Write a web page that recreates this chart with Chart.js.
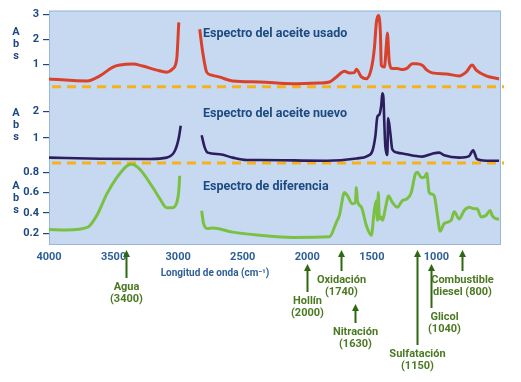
<!DOCTYPE html>
<html><head><meta charset="utf-8">
<script src="https://cdn.jsdelivr.net/npm/chart.js@4"></script>
<style>html,body{margin:0;padding:0;background:#fff}canvas{display:block}</style>
</head><body>
<canvas id="c" width="521" height="382"></canvas>
<script>
// ---- DATA ----
const usadoWn  = [4000,3706,3606,3505,3451,3351,3274,3165,3088,3042,3011,2995,2910,2833,2810,2779,2740,2678,2578,2369,2114,1906,1828,1774,1712,1674,1635,1620,1581,1543,1504,1481,1465,1450,1434,1427,1403,1388,1380,1365,1342,1303,1264,1226,1187,1156,1110,1071,1032,924,824,770,723,692,615,515];
const usadoAbs = [0.43,0.35,0.55,0.9,0.98,1.02,0.94,0.78,0.7,0.83,1.22,2.67,null,2.4,1.5,0.7,0.58,0.5,0.35,0.31,0.24,0.27,0.31,0.51,0.73,0.67,0.68,0.81,0.51,0.44,0.84,1.62,2.67,2.95,2.27,0.97,0.9,1.75,2.25,1.1,0.84,0.84,0.8,0.86,1.03,1.03,0.97,0.77,0.67,0.63,0.55,0.7,0.98,0.78,0.55,0.43];

const nuevoWn  = [4000,3606,3219,3088,3026,2995,2980,2900,2818,2794,2771,2678,2578,2470,2369,1852,1620,1535,1496,1473,1457,1442,1427,1419,1411,1403,1396,1388,1380,1374,1357,1342,1303,1233,1156,1110,1032,978,940,824,747,716,685,615,515];
const nuevoAbs = [0.25,0.21,0.2,0.25,0.5,1.0,1.46,null,1.1,0.63,0.44,0.38,0.25,0.16,0.16,0.13,0.22,0.31,0.5,1.06,1.81,1.88,2.25,2.69,2.56,1.5,0.7,0.44,0.35,1.75,1.19,0.57,0.44,0.38,0.31,0.29,0.4,0.44,0.34,0.25,0.31,0.53,0.19,0.13,0.13];

const difWn  = [4000,3861,3699,3629,3552,3474,3397,3359,3297,3196,3142,3088,3049,3011,2995,2988,2900,2818,2802,2771,2733,2578,2369,2114,1828,1774,1751,1712,1689,1651,1627,1620,1612,1581,1543,1504,1481,1465,1457,1450,1442,1427,1419,1388,1372,1342,1303,1264,1226,1195,1164,1148,1117,1094,1075,1056,1040,1017,994,971,940,886,862,824,785,746,708,685,654,615,584,569,530,515];
const difAbs = [0.236,0.232,0.26,0.376,0.587,0.75,0.863,0.88,0.83,0.65,0.54,0.45,0.45,0.5,0.62,0.766,null,0.42,0.29,0.246,0.25,0.21,0.18,0.158,0.164,0.31,0.376,0.6,0.57,0.49,0.505,0.65,0.52,0.456,0.278,0.18,0.424,0.52,0.327,0.6,0.34,0.36,0.327,0.49,0.57,0.505,0.456,0.52,0.54,0.6,0.78,0.8,0.75,0.75,0.79,0.6,0.587,0.57,0.39,0.22,0.295,0.327,0.41,0.34,0.424,0.456,0.44,0.44,0.36,0.376,0.424,0.376,0.34,0.34];

const xTicks = [4000,3500,3000,2500,2000,1500,1000];
const usadoTicks = [1,2,3];
const nuevoTicks = [1,2];
const difTicks = [0.2,0.4,0.6,0.8];

const panelTitles = ['Espectro del aceite usado','Espectro del aceite nuevo','Espectro de diferencia'];
const xTitle = 'Longitud de onda (cm\u207B\u00B9)';

const bandNames = ['Agua','Hollín','Oxidación','Nitración','Sulfatación','Glicol','Combustible'];
const bandSub   = ['(3400)','(2000)','(1740)','(1630)','(1150)','(1040)','diesel (800)'];
const bandWn    = [3400,2000,1740,1630,1150,1040,800];

// ---- STYLE / LAYOUT ----
const bandLayout = [
  {top:250,bottom:278,dx:0},{top:264,bottom:292,dx:0},{top:250,bottom:271,dx:0},
  {top:304,bottom:323,dx:0},{top:250,bottom:345,dx:0},{top:264,bottom:308,dx:13},
  {top:250,bottom:271,dx:0}];
const BLUE = '#1c4a80';
const GREEN_TXT = '#4b7a22';
const GREEN_ARW = '#2e6912';
const FONT = 'Roboto, "Liberation Sans", sans-serif';

function pts(xs, ys){ return xs.map((x,i)=>({x:x, y:ys[i]})); }

function yScale(ticks, min, max, weight){
  return {
    type:'linear', position:'left', stack:'panels', stackWeight:weight,
    min:min, max:max,
    afterBuildTicks: s => { s.ticks = ticks.map(v=>({value:v})); },
    afterFit: s => { s.width = 49; },
    border:{display:false},
    grid:{drawOnChartArea:false, drawTicks:true, tickLength:6, color:BLUE, lineWidth:1.2},
    ticks:{autoSkip:false, padding:4, color:BLUE, font:{family:FONT, weight:'bold', size:11},
           callback: v => String(v)}
  };
}

const bgPlugin = {
  id:'bg',
  beforeDraw(chart){
    const {ctx, chartArea:a} = chart;
    ctx.save();
    ctx.fillStyle = '#c6d9f1';
    ctx.fillRect(a.left, a.top, a.right-a.left, a.bottom-a.top);
    ctx.strokeStyle = '#9ab6db';
    ctx.lineWidth = 1;
    ctx.strokeRect(a.left+0.5, a.top+0.5, a.right-a.left-1, a.bottom-a.top);
    ctx.restore();
  },
  beforeDatasetsDraw(chart){
    const {ctx, chartArea:a} = chart;
    ctx.save();
    ctx.strokeStyle = '#f5b21c';
    ctx.lineWidth = 3;
    ctx.setLineDash([9,6]);
    ['yUsado','yNuevo'].forEach(id=>{
      const y = chart.scales[id].bottom;
      ctx.beginPath(); ctx.moveTo(a.left+3, y); ctx.lineTo(a.right+3, y); ctx.stroke();
    });
    ctx.restore();
  },
  afterDraw(chart){
    const {ctx, chartArea:a} = chart;
    const x = chart.scales.x;
    ctx.save();
    const ids = ['yUsado','yNuevo','yDif'];
    const offs = [23,27,24];
    ids.forEach((id,i)=>{
      const s = chart.scales[id];
      const ty = s.top + offs[i];
      ctx.fillStyle = BLUE;
      ctx.font = 'bold 12.5px ' + FONT;
      ctx.textAlign = 'left'; ctx.textBaseline = 'middle';
      ctx.fillText(panelTitles[i], a.left + 154, ty);
      ctx.font = 'bold 11px ' + FONT;
      ctx.textAlign = 'center';
      ['A','b','s'].forEach((ch,k)=> ctx.fillText(ch, 16, ty - 1 + k*12));
    });
    ctx.fillStyle = '#2f5f98';
    ctx.font = 'bold 10px ' + FONT;
    ctx.textAlign = 'center'; ctx.textBaseline = 'middle';
    ctx.fillText(xTitle, 215, 273);
    bandWn.forEach((w,i)=>{
      const px = Math.round(x.getPixelForValue(w)) + 0.5;
      const L = bandLayout[i];
      ctx.strokeStyle = GREEN_ARW; ctx.fillStyle = GREEN_ARW;
      ctx.lineWidth = 2;
      ctx.beginPath(); ctx.moveTo(px, L.top+5); ctx.lineTo(px, L.bottom); ctx.stroke();
      ctx.beginPath(); ctx.moveTo(px, L.top); ctx.lineTo(px-3.5, L.top+7); ctx.lineTo(px+3.5, L.top+7); ctx.closePath(); ctx.fill();
      ctx.fillStyle = GREEN_TXT;
      ctx.font = 'bold 11px ' + FONT;
      ctx.textAlign = 'center'; ctx.textBaseline = 'middle';
      ctx.fillText(bandNames[i], px + L.dx, L.bottom + 9);
      ctx.fillText(bandSub[i], px + L.dx, L.bottom + 21);
    });
    ctx.restore();
  }
};

new Chart(document.getElementById('c'), {
  type:'line',
  data:{datasets:[
    {label:'Usado', data:pts(usadoWn,usadoAbs), yAxisID:'yUsado', borderColor:'#d8412c', borderWidth:3},
    {label:'Nuevo', data:pts(nuevoWn,nuevoAbs), yAxisID:'yNuevo', borderColor:'#2c1e5c', borderWidth:2.6},
    {label:'Diferencia', data:pts(difWn,difAbs), yAxisID:'yDif', borderColor:'#7ac143', borderWidth:3}
  ]},
  options:{
    responsive:false, animation:false,
    layout:{padding:{top:8, right:20, left:0, bottom:0}},
    elements:{point:{radius:0}, line:{cubicInterpolationMode:'monotone', fill:false}},
    spanGaps:false,
    plugins:{legend:{display:false}, tooltip:{enabled:false}},
    scales:{
      x:{type:'linear', reverse:true, min:500, max:4000,
         afterBuildTicks: s => { s.ticks = xTicks.map(v=>({value:v})); },
         afterFit: s => { s.height = 138; },
         border:{display:false},
         grid:{display:false, drawTicks:false},
         ticks:{autoSkip:false, maxRotation:0, padding:7, color:'#2f5f98', font:{family:FONT, weight:'bold', size:11},
                callback: v => String(v)}},
      yDif: yScale(difTicks, 0.093, 0.893, 82),
      yNuevo: yScale(nuevoTicks, 0.05, 2.94, 77),
      yUsado: yScale(usadoTicks, 0.12, 3.14, 77)
    }
  },
  plugins:[bgPlugin]
});
</script>
</body></html>
